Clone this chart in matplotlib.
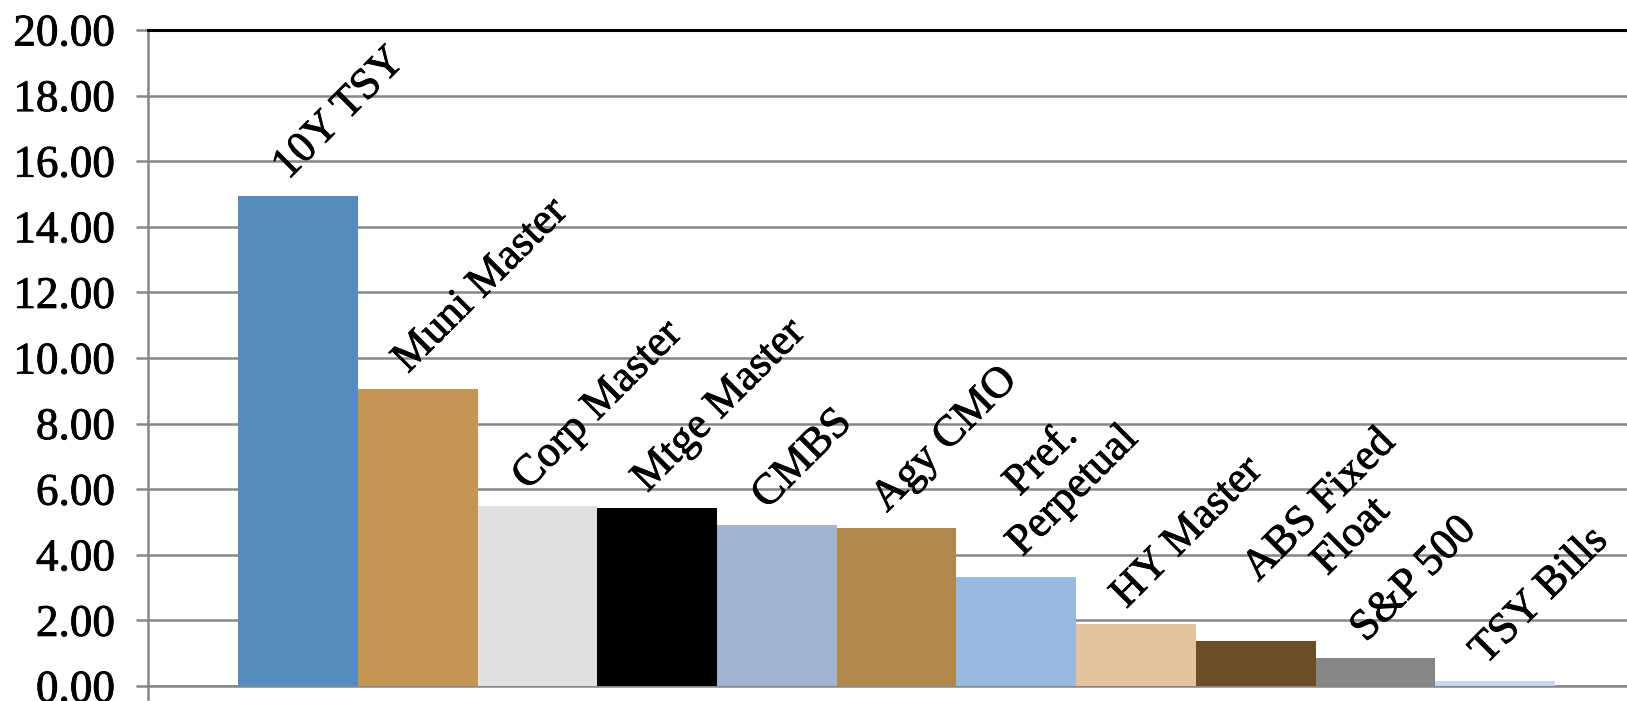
import matplotlib.pyplot as plt
import matplotlib.patheffects as pe
import numpy as np

# data
labels = ["10Y TSY", "Muni Master", "Corp Master", "Mtge Master", "CMBS", "Agy CMO",
          "Pref.\nPerpetual", "HY Master", "ABS Fixed\nFloat", "S&P 500", "TSY Bills"]
values = [14.95, 9.05, 5.48, 5.42, 4.90, 4.81, 3.31, 1.88, 1.37, 0.85, 0.16]
colors = ["#558BBE", "#C49553", "#E0E0E0", "#000000", "#A2B5CF", "#B0884C",
          "#99BAE0", "#E5C39A", "#6B4E23", "#868686", "#C6D8EE"]
yticks = np.arange(0, 21, 2)

# label nudges (points) for the wrapped labels, default for the rest
label_offset = {"Pref.\nPerpetual": (2, 17), "ABS Fixed\nFloat": (22, 22)}
default_offset = (-7, 11)

plt.rcParams["font.family"] = ["Liberation Serif", "DejaVu Serif"]
thick = [pe.withStroke(linewidth=0.6, foreground="black")]

fig = plt.figure(figsize=(16.27, 7.01), dpi=100)
ax = fig.add_axes([148 / 1627, 15 / 701, 1 - 148 / 1627, 656 / 701])

x = np.arange(len(values))
ax.bar(x, values, width=1.0, color=colors, zorder=3)

# labels above bars, rotated like the original
for xi, v, lab in zip(x, values, labels):
    ax.annotate(lab, (xi, v), xytext=label_offset.get(lab, default_offset),
                textcoords="offset points", rotation=45, rotation_mode="anchor",
                ha="left", va="baseline", multialignment="center", fontsize=31.5,
                linespacing=1.15, zorder=4, annotation_clip=False, path_effects=thick)

ax.set_xlim(-1.252, 11.1)
ax.set_ylim(0, 20)
ax.set_yticks(yticks)
ax.set_yticklabels([f"{t:.2f}" for t in yticks], fontsize=32.5)
for t in ax.get_yticklabels():
    t.set_path_effects(thick)
ax.set_xticks([])

gray = "#868686"
ax.yaxis.grid(True, color=gray, linewidth=1.8, zorder=0)
ax.tick_params(axis="y", length=8.6, width=1.8, color=gray, pad=15)

ax.spines["right"].set_visible(False)
ax.spines["left"].set_color(gray)
ax.spines["left"].set_linewidth(1.8)
ax.spines["bottom"].set_color(gray)
ax.spines["bottom"].set_linewidth(1.8)
ax.spines["top"].set_color("black")
ax.spines["top"].set_linewidth(2.2)

# small stub of the left axis below zero
ax.plot([-1.252, -1.252], [0, -0.4], color=gray, lw=1.8, clip_on=False)

fig.savefig("out.png", dpi=100)
